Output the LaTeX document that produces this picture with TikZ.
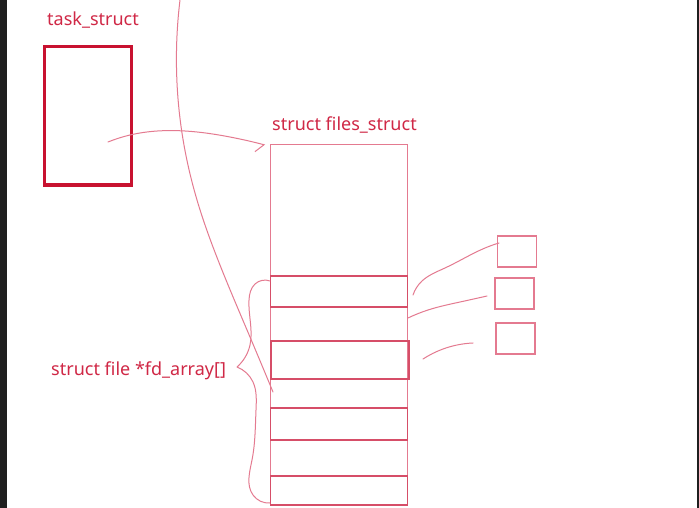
\documentclass[tikz,border=0pt]{standalone}
\usepackage{fontspec}
\setmainfont{Noto Sans}
\usetikzlibrary{hobby,arrows.meta}
\definecolor{boxred}{RGB}{200,18,48}
\definecolor{inkred}{RGB}{208,40,70}
\definecolor{penred}{RGB}{228,122,144}
\definecolor{slotred}{RGB}{214,78,104}
\tikzset{
    task box/.style={
        draw=boxred,
        line width=3pt,
        minimum width=87pt,
        minimum height=138pt,
        inner sep=0pt
    },
    table box/.style={
        draw=penred,
        line width=1pt,
        minimum width=137pt,
        inner sep=0pt
    },
    slot/.style={
        draw=slotred,
        line width=1.3pt,
        minimum width=137pt,
        inner sep=0pt
    },
    file box/.style={
        draw=penred,
        line width=1.2pt,
        minimum width=39pt,
        minimum height=31pt,
        inner sep=0pt
    },
    label/.style={
        text=inkred,
        font=\fontsize{18}{21}\selectfont,
        anchor=base west,
        inner sep=0pt
    },
    pen/.style={
        draw=penred,
        line width=1pt,
        line cap=round,
        line join=round
    }
}
\begin{document}
\begin{tikzpicture}[x=1pt, y=-1pt, use Hobby shortcut]
                \fill[white] (0,0) rectangle (699,508);
                \fill[black!88] (0,0) rectangle (7,508);
                \fill[black!88] (697,0) rectangle (699,508);
                \useasboundingbox (0,0) rectangle (699,508);

                \node[label] (task label) at (47,26) {task\_struct};
                \node[task box] (task) at (87.5,116) {};
                \node[label] (files label) at (272,131) {struct files\_struct};
                \node[table box, minimum height=360pt] (files) at (339,325) {};
                \node[slot, minimum height=31pt] (fd0) at (339,291.5) {};
                \node[slot, minimum width=138pt, minimum height=38pt] (fd1) at (340,360) {};
                \node[slot, minimum height=32pt] (fd2) at (339,424) {};
                \node[slot, minimum height=29pt] (fd3) at (339,490.5) {};
                \node[file box] (f0) at (517,251.5) {};
                \node[file box] (f1) at (514.5,293.5) {};
                \node[file box] (f2) at (515.5,338.5) {};
                \node[label] (array label) at (51,375) {struct file *fd\_array[]};

                \coordinate (P1) at (108,142);
                \coordinate (P2) at (265,145);
                \coordinate (Q1) at (180,0);
                \coordinate (Q2) at (273,392);
                \coordinate (B1) at (270,281);
                \coordinate (B2) at (237,367);
                \coordinate (B3) at (270,503);
                \coordinate (C1) at (413,295);
                \coordinate (C2) at (499,243);
                \coordinate (C3) at (408,318);
                \coordinate (C4) at (487,296);
                \coordinate (C5) at (423,359);
                \coordinate (C6) at (473,343);

                \draw[pen, -{Straight Barb[harpoon, swap, length=7pt, width=18pt]}]
                    (P1)..(130,135)..(185,131)..(230,137)..(P2);
                \draw[pen] (Q1)..(177,83)..(182,133)..(197,200)..(218,260)..(250,337)..(Q2);
                \draw[pen] (B1)..(255,284)..(249,300)..(250,345)..(B2)
                    (B2)..(253,382)..(256,410)..(252,460)..(253,495)..(B3);
                \draw[pen] (C1)..(422,281)..(445,268)..(485,248)..(C2);
                \draw[pen] (C3)..(428,310)..(460,302)..(C4);
                \draw[pen] (C5)..(443,349)..(C6);
            \end{tikzpicture}
\end{document}
